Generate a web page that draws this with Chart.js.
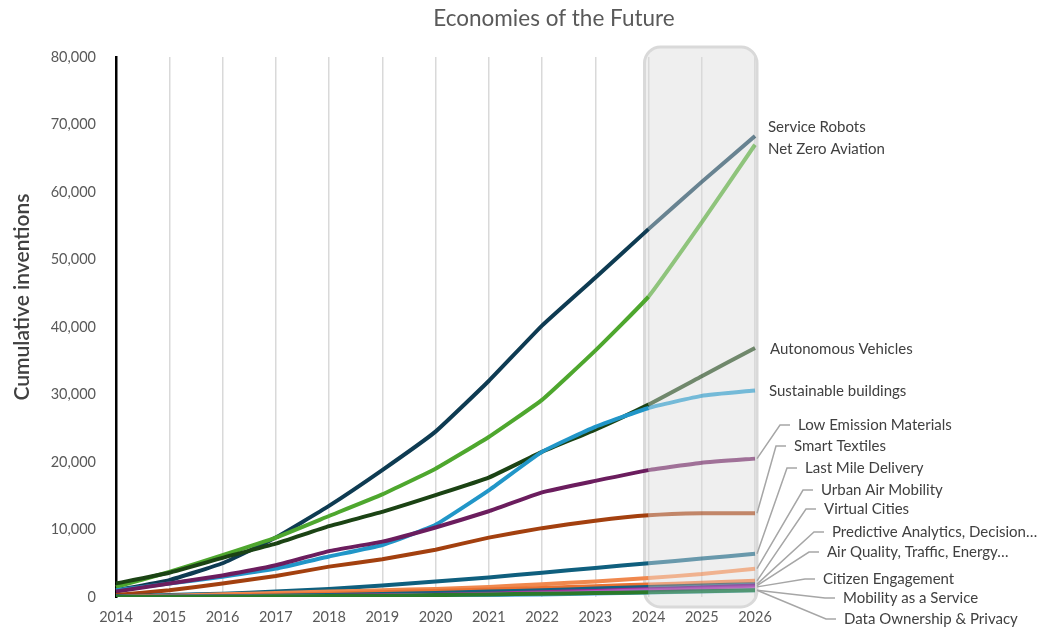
<!DOCTYPE html>
<html>
<head>
<meta charset="utf-8">
<script src="https://cdn.jsdelivr.net/npm/chart.js@4"></script>
<style>
  html, body { margin: 0; padding: 0; background: #fff; }
  #wrap { width: 1048px; height: 630px; position: relative; }
</style>
</head>
<body>
<div id="wrap"><canvas id="chart"></canvas></div>
<script>
const years = ['2014','2015','2016','2017','2018','2019','2020','2021','2022','2023','2024','2025','2026'];

const serviceRobots      = [1000, 2500, 5000, 8800, 13500, 18800, 24500, 32000, 40200, 47300, 54500, 61500, 68300];
const netZeroAviation    = [1500, 3700, 6200, 8800, 12000, 15200, 19000, 23700, 29200, 36500, 44500, 55500, 67000];
const autonomousVehicles = [2000, 3600, 5800, 7900, 10500, 12600, 15100, 17700, 21500, 24800, 28500, 32700, 36900];
const sustainableBuild   = [1000, 2000, 3000, 4200, 6000, 7700, 10700, 15800, 21500, 25200, 28000, 29800, 30600];
const lowEmission        = [800, 2000, 3200, 4700, 6800, 8200, 10300, 12700, 15500, 17200, 18800, 19900, 20500];
const smartTextiles      = [300, 1000, 2000, 3100, 4500, 5600, 7000, 8800, 10200, 11300, 12100, 12400, 12400];
const lastMile           = [100, 300, 500, 800, 1200, 1700, 2300, 2900, 3600, 4300, 5000, 5700, 6400];
const urbanAir           = [0, 200, 400, 600, 800, 1000, 1200, 1500, 1900, 2300, 2800, 3400, 4200];
const virtualCities      = [0, 100, 200, 350, 500, 700, 900, 1100, 1350, 1600, 1850, 2100, 2400];
const predictive         = [0, 50, 100, 200, 300, 450, 600, 800, 1000, 1250, 1500, 1700, 1900];
const airQuality         = [0, 30, 60, 100, 160, 250, 350, 500, 700, 900, 1150, 1400, 1700];
const citizen            = [0, 20, 40, 80, 120, 200, 280, 400, 550, 750, 1000, 1250, 1500];
const mobilityService    = [0, 20, 40, 60, 100, 150, 200, 280, 380, 500, 650, 800, 1000];
const dataOwnership      = [0, 30, 60, 100, 150, 200, 280, 380, 480, 580, 700, 850, 1000];

const names = ['Service Robots', 'Net Zero Aviation', 'Autonomous Vehicles', 'Sustainable buildings',
  'Low Emission Materials', 'Smart Textiles', 'Last Mile Delivery', 'Urban Air Mobility', 'Virtual Cities',
  'Predictive Analytics, Decision…', 'Air Quality, Traffic, Energy…', 'Citizen Engagement',
  'Mobility as a Service', 'Data Ownership & Privacy'];
const values = [serviceRobots, netZeroAviation, autonomousVehicles, sustainableBuild, lowEmission, smartTextiles,
  lastMile, urbanAir, virtualCities, predictive, airQuality, citizen, mobilityService, dataOwnership];
const colors = ['#0e3b52', '#4ea72e', '#1b4314', '#2196c8', '#6b1d5e', '#a3400f', '#0f5f7e', '#f0884e',
  '#e97132', '#156082', '#a02b93', '#b05cc0', '#4ea6dc', '#2a7a2a'];

// label placement on the right (pixels)
const labelX = [768, 768, 770, 769, 798, 794, 805, 821, 824, 832, 827, 823, 843, 844];
const labelY = [127, 149, 349, 391, 425, 446, 468, 490, 509, 532, 552, 579, 598, 619];

function fade(hex) {
    const r = parseInt(hex.slice(1, 3), 16), g = parseInt(hex.slice(3, 5), 16), b = parseInt(hex.slice(5, 7), 16);
    return `rgba(${r}, ${g}, ${b}, 0.6)`;
}

const FONT = 'Lato, "Open Sans", sans-serif';

const boxPlugin = {
    id: 'forecastBox',
    beforeDraw(chart) {
        const { ctx, scales: { x }, chartArea } = chart;
        const left = x.getPixelForValue(10) - 4;
        const right = x.getPixelForValue(12) + 2;
        const top = chartArea.top - 10;
        const bottom = chartArea.bottom + 10;
        ctx.save();
        ctx.beginPath();
        ctx.roundRect(left, top, right - left, bottom - top, 16);
        ctx.fillStyle = '#efefef';
        ctx.fill();
        ctx.lineWidth = 3;
        ctx.strokeStyle = '#d9d9d9';
        ctx.stroke();
        ctx.restore();
    },
    afterDraw(chart) {
        const { ctx } = chart;
        ctx.save();
        ctx.fillStyle = '#595959';
        ctx.font = '22.5px ' + FONT;
        ctx.textAlign = 'center';
        ctx.textBaseline = 'middle';
        ctx.fillText('Economies of the Future', 554, 19);

        ctx.translate(22, 297);
        ctx.rotate(-Math.PI / 2);
        ctx.fillStyle = '#404040';
        ctx.font = '600 21px ' + FONT;
        ctx.fillText('Cumulative inventions', 0, 0);
        ctx.restore();
    }
};

const labelPlugin = {
    id: 'endLabels',
    afterDatasetsDraw(chart) {
        const { ctx } = chart;
        ctx.save();
        ctx.font = '15px ' + FONT;
        ctx.fillStyle = '#404040';
        ctx.textBaseline = 'middle';
        ctx.strokeStyle = '#a6a6a6';
        ctx.lineWidth = 1.5;
        names.forEach((name, i) => {
            // datasets are stored in reverse drawing order
            const meta = chart.getDatasetMeta(names.length - 1 - i);
            const pt = meta.data[years.length - 1];
            if (i >= 4) {
                ctx.beginPath();
                ctx.moveTo(pt.x + 2, pt.y);
                ctx.lineTo(labelX[i] - 18, labelY[i]);
                ctx.lineTo(labelX[i] - 8, labelY[i]);
                ctx.stroke();
            }
            ctx.fillText(name, labelX[i], labelY[i]);
        });
        ctx.restore();
    }
};

function initChart() {
    const ctx = document.getElementById('chart').getContext('2d');
    new Chart(ctx, {
        type: 'line',
        data: {
            labels: years,
            datasets: names.map((name, i) => ({
                label: name,
                data: values[i],
                borderColor: colors[i],
                borderWidth: 4,
                pointRadius: 0,
                tension: 0.12,
                fill: false,
                segment: {
                    borderColor: c => c.p0DataIndex >= 10 ? fade(colors[i]) : undefined
                }
            })).reverse()
        },
        options: {
            responsive: true,
            maintainAspectRatio: false,
            animation: false,
            layout: { padding: { top: 57, right: 293, bottom: 0, left: 0 } },
            plugins: {
                legend: { display: false },
                tooltip: { enabled: false }
            },
            scales: {
                x: {
                    grid: { color: '#d9d9d9', lineWidth: 1.5, drawTicks: false },
                    border: { display: false },
                    ticks: { color: '#595959', padding: 12, font: { family: FONT, size: 14.5 } },
                    afterFit: s => { s.height = 33; }
                },
                y: {
                    min: 0,
                    max: 80000,
                    grid: { display: false },
                    border: { color: '#000000', width: 2.5 },
                    ticks: {
                        stepSize: 10000,
                        color: '#595959',
                        padding: 12,
                        font: { family: FONT, size: 14.5 },
                        callback: v => v.toLocaleString('en-US')
                    },
                    afterFit: s => { s.width = 116; }
                }
            }
        },
        plugins: [boxPlugin, labelPlugin]
    });
}

document.addEventListener('DOMContentLoaded', initChart);
</script>
</body>
</html>
